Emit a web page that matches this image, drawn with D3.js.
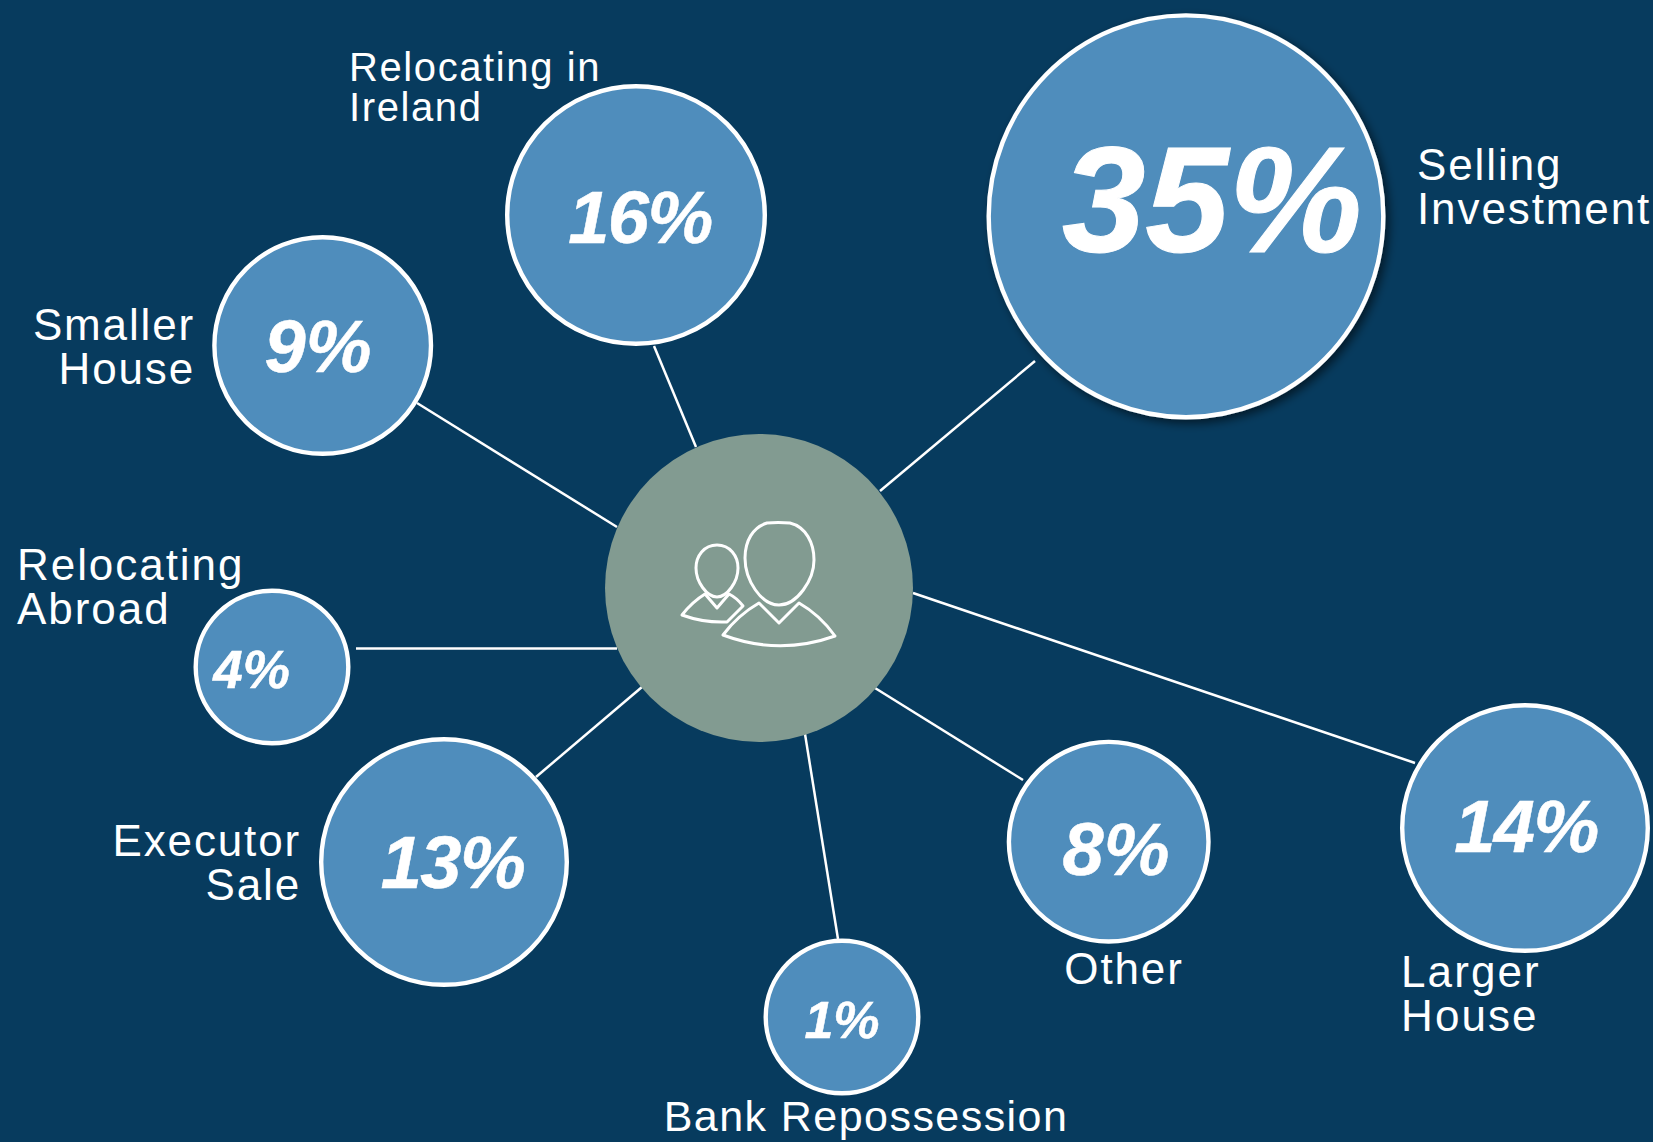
<!DOCTYPE html>
<html>
<head>
<meta charset="utf-8">
<style>
  html, body { margin: 0; padding: 0; background: #073b5e; }
  svg { display: block; }
  .label { font-family: "Liberation Sans", Arial, sans-serif; fill: #fff; }
  .pct { font-family: "Liberation Sans", Arial, sans-serif; fill: #fff; stroke: #fff; font-weight: bold; font-style: italic; }
</style>
<script src="https://cdn.jsdelivr.net/npm/d3@7/dist/d3.min.js"></script>
</head>
<body>
<script>
// Reasons for selling a home, share of respondents
const categories = ["Selling Investment", "Relocating in Ireland", "Smaller House", "Relocating Abroad", "Executor Sale", "Bank Repossession", "Other", "Larger House"];
const shares = [35, 16, 9, 4, 13, 1, 8, 14];

// Bubble radius and figure size by share
const radius = d3.scaleLinear().domain([1, 4, 8, 9, 13, 14, 16, 35]).range([78.5, 78.5, 102, 110.5, 125, 125, 131, 199.5]);
const pctSize = d3.scaleLinear().domain([1, 4, 8, 16, 35]).range([52, 53, 74, 74, 150]);

// Hand-arranged hub-and-spoke layout
const hub = { x: 759, y: 588, r: 154 };
const layout = {
  "Selling Investment":   { c: [1186, 216.3], aspect: 1.018, spoke: [880, 491, 1035, 361], pct: [1212, 252], lines: ["Selling", "Investment"], tx: 1417, ty: 180, anchor: "start", ls: 1.9 },
  "Relocating in Ireland":{ c: [636, 215], spoke: [696, 447, 654, 346], pct: [640, 243], lines: ["Relocating in", "Ireland"], tx: 349, ty: 81, anchor: "start", size: 40, ls: 1.6, gap: 40 },
  "Smaller House":        { c: [322.7, 345.5], spoke: [617, 527, 417, 403], pct: [318, 372], lines: ["Smaller", "House"], tx: 195, ty: 340, anchor: "end" },
  "Relocating Abroad":    { c: [272, 667], spoke: [617, 648.5, 356, 648.5], pct: [251.5, 688], lines: ["Relocating", "Abroad"], tx: 17, ty: 580, anchor: "start", ls: 1.95 },
  "Executor Sale":        { c: [444, 862], spoke: [642, 687, 536, 777], pct: [452.5, 888], lines: ["Executor", "Sale"], tx: 301, ty: 856, anchor: "end" },
  "Bank Repossession":    { c: [842, 1017], spoke: [805, 734, 838, 939], pct: [842, 1038], lines: ["Bank Repossession"], tx: 866, ty: 1131, anchor: "middle", size: 43, ls: 1.45 },
  "Other":                { c: [1108.7, 841.7], spoke: [875, 688, 1023, 780], pct: [1116, 875], lines: ["Other"], tx: 1124, ty: 984, anchor: "middle" },
  "Larger House":         { c: [1525, 828], spoke: [913, 593, 1415, 763], pct: [1526, 852], lines: ["Larger", "House"], tx: 1401, ty: 987, anchor: "start", ls: 2.1 }
};

const records = categories.map((name, i) => ({ name, value: shares[i], size: 44, ls: 1.85, gap: 44, aspect: 1, ...layout[name] }));

const svg = d3.select("body").append("svg").attr("width", 1653).attr("height", 1142);

const shadow = svg.append("defs").append("filter").attr("id", "bubbleShadow")
  .attr("x", "-10%").attr("y", "-10%").attr("width", "125%").attr("height", "125%");
shadow.append("feDropShadow").attr("dx", 4).attr("dy", 4).attr("stdDeviation", 5)
  .attr("flood-color", "#000").attr("flood-opacity", 0.55);

// Spokes
svg.append("g").selectAll("line").data(records).join("line")
  .attr("x1", d => d.spoke[0]).attr("y1", d => d.spoke[1])
  .attr("x2", d => d.spoke[2]).attr("y2", d => d.spoke[3])
  .attr("stroke", "#fff").attr("stroke-width", 2.5);

// Hub
svg.append("circle").attr("cx", hub.x).attr("cy", hub.y).attr("r", hub.r).attr("fill", "#829b91");

// Bubbles
svg.append("g").selectAll("ellipse").data(records).join("ellipse")
  .attr("cx", d => d.c[0]).attr("cy", d => d.c[1])
  .attr("rx", d => radius(d.value) - 2.2).attr("ry", d => radius(d.value) * d.aspect - 2.2)
  .attr("fill", "#4f8dbc").attr("stroke", "#fff").attr("stroke-width", 4.4)
  .attr("filter", d => d.value === 35 ? "url(#bubbleShadow)" : null);

// Share figures
svg.append("g").selectAll("text").data(records).join("text")
  .attr("class", "pct").attr("text-anchor", "middle")
  .attr("x", d => d.pct[0]).attr("y", d => d.pct[1])
  .attr("font-size", d => pctSize(d.value))
  .attr("letter-spacing", d => d.value >= 10 && d.value < 35 ? -1.5 : 0)
  .attr("stroke-width", d => d.value === 35 ? 1 : 0.5)
  .text(d => d.value + "%");

// Category names
const names = svg.append("g").selectAll("text").data(records).join("text")
  .attr("class", "label").attr("text-anchor", d => d.anchor)
  .attr("font-size", d => d.size).attr("letter-spacing", d => d.ls);
names.selectAll("tspan").data(d => d.lines.map(t => ({ t, d }))).join("tspan")
  .attr("x", e => e.d.tx).attr("y", (e, i) => e.d.ty + i * e.d.gap).text(e => e.t);

// Two-person icon at the centre of the hub
const icon = svg.append("g").attr("fill", "none").attr("stroke", "#fff").attr("stroke-width", 3).attr("stroke-linejoin", "round");
icon.append("path")
  .attr("d", "M767,523 Q778,522 790,523 C806,527 814,543 814,560 C814,580 797,605 779,605 C761,605 745,580 745,558 C745,541 753,527 767,523 Z");
icon.append("path")
  .attr("d", "M759,603 L779,623 L799,603 Q820,615 835,636 Q779,656 723,635 Q738,615 759,603 Z");
icon.append("path")
  .attr("d", "M717,545 C730,545 738,556 738,568 C738,582 727,597 717,597 C707,597 696,582 696,568 C696,556 704,545 717,545 Z");
icon.append("path")
  .attr("d", "M705,594 L717,608 L729,594 Q737,598 743,606 L727,622 Q704,623 682,615 Q692,602 705,594 Z");
</script>
</body>
</html>
